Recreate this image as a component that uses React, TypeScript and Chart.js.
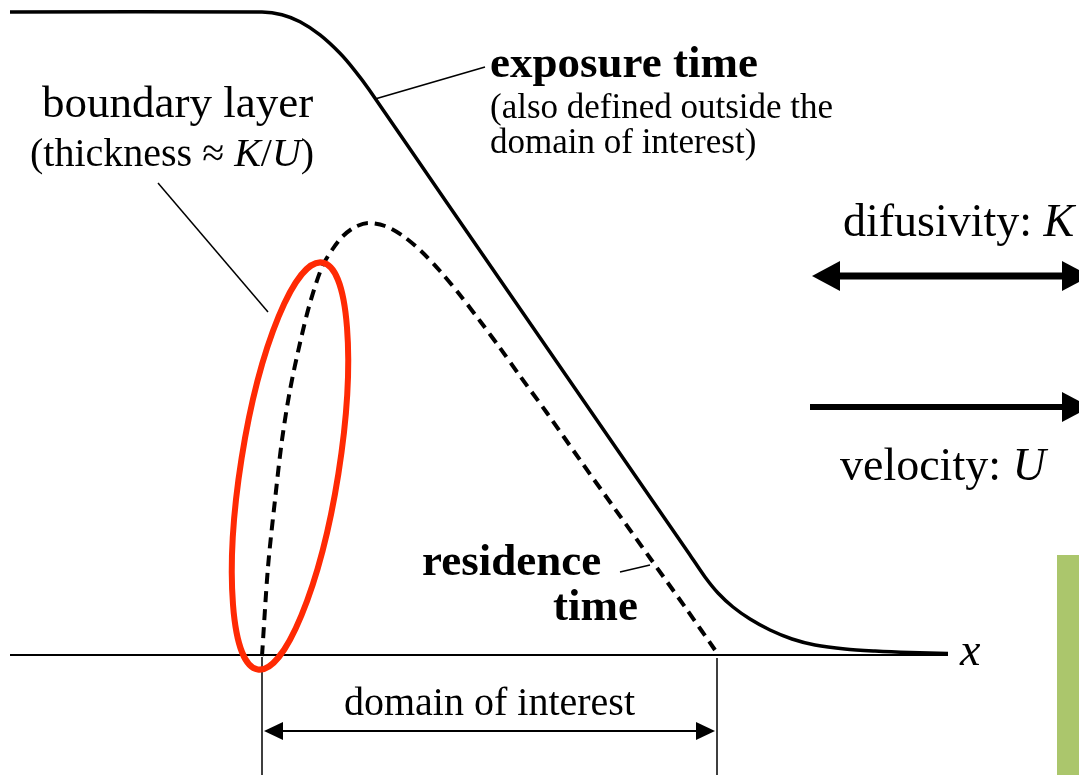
import React, { useEffect, useRef } from "react";
import { Chart, registerables } from "chart.js";

Chart.register(...registerables);

// ---- data (diagram units = reference pixels) ----
const exposureX = [10, 262, 282, 300, 320, 340, 355, 369, 445, 514, 583, 652, 690, 705, 718, 733, 750, 770, 792, 815, 845, 875, 910, 948];
const exposureY = [12, 12, 14.7, 21.8, 34.9, 53.3, 70.8, 89.4, 200, 300, 400, 500, 555, 577, 593, 607, 619, 630, 639, 645, 649, 651, 652.5, 653.5];

const residenceX = [262, 268, 275, 282, 290, 300, 310, 322, 332, 343, 355, 368, 385, 403, 422, 440, 460, 480, 500, 520, 547, 580, 615, 650, 685, 715];
const residenceY = [656, 567, 500, 440, 390, 343, 303, 267, 250, 236, 227, 223, 226, 236, 252, 271, 295, 321, 348, 376, 413, 460, 509, 558, 607, 650];

const axisX = [10, 948];
const axisY = [655, 655];

const domainStart = 262;
const domainEnd = 717;

const boundaryLeaderX = [158, 268];
const boundaryLeaderY = [183, 312];
const exposureLeaderX = [375, 485];
const exposureLeaderY = [99, 67];
const residenceLeaderX = [620, 650];
const residenceLeaderY = [572, 565];

const toPts = (xs: number[], ys: number[]) => xs.map((x, i) => ({ x, y: ys[i] }));

const SERIF = '"Liberation Serif", "Times New Roman", serif';

function drawArrow(
  ctx: CanvasRenderingContext2D,
  x1: number, y1: number, x2: number, y2: number,
  lw: number, hl: number, hw: number, both: boolean
) {
  const ang = Math.atan2(y2 - y1, x2 - x1);
  const cos = Math.cos(ang), sin = Math.sin(ang);
  const sx = both ? x1 + cos * hl * 0.8 : x1;
  const sy = both ? y1 + sin * hl * 0.8 : y1;
  const ex = x2 - cos * hl * 0.8;
  const ey = y2 - sin * hl * 0.8;
  ctx.save();
  ctx.strokeStyle = "#000";
  ctx.fillStyle = "#000";
  ctx.lineWidth = lw;
  ctx.lineCap = "butt";
  ctx.beginPath();
  ctx.moveTo(sx, sy);
  ctx.lineTo(ex, ey);
  ctx.stroke();
  const head = (tx: number, ty: number, dir: number) => {
    const bx = tx - dir * cos * hl, by = ty - dir * sin * hl;
    ctx.beginPath();
    ctx.moveTo(tx, ty);
    ctx.lineTo(bx - sin * hw, by + cos * hw);
    ctx.lineTo(bx + sin * hw, by - cos * hw);
    ctx.closePath();
    ctx.fill();
  };
  head(x2, y2, 1);
  if (both) head(x1, y1, -1);
  ctx.restore();
}

type Seg = { t: string; it?: boolean; bold?: boolean };

function drawRich(ctx: CanvasRenderingContext2D, segs: Seg[], x: number, y: number, size: number, align: "left" | "center" = "left") {
  ctx.save();
  ctx.fillStyle = "#000";
  ctx.textBaseline = "alphabetic";
  ctx.textAlign = "left";
  const fontOf = (s: Seg) => `${s.it ? "italic " : ""}${s.bold ? "bold " : ""}${size}px ${SERIF}`;
  let total = 0;
  segs.forEach((s) => {
    ctx.font = fontOf(s);
    total += ctx.measureText(s.t).width;
  });
  let cx = align === "center" ? x - total / 2 : x;
  segs.forEach((s) => {
    ctx.font = fontOf(s);
    ctx.fillText(s.t, cx, y);
    cx += ctx.measureText(s.t).width;
  });
  ctx.restore();
}

const decorPlugin = {
  id: "decor",
  beforeDatasetsDraw(chart: any) {
    const { ctx, scales } = chart;
    const X = (v: number) => scales.x.getPixelForValue(v);
    const Y = (v: number) => scales.y.getPixelForValue(v);
    ctx.save();
    // green side bar
    ctx.fillStyle = "#abc66c";
    ctx.fillRect(X(1057), Y(555), X(1079) - X(1057), Y(775) - Y(555));
    // domain boundaries
    ctx.strokeStyle = "#000";
    ctx.lineWidth = 1.5;
    ctx.beginPath();
    ctx.moveTo(X(domainStart), Y(657));
    ctx.lineTo(X(domainStart), Y(775));
    ctx.moveTo(X(domainEnd), Y(658));
    ctx.lineTo(X(domainEnd), Y(775));
    ctx.stroke();
    ctx.restore();
  },
  afterDatasetsDraw(chart: any) {
    const { ctx, scales } = chart;
    const X = (v: number) => scales.x.getPixelForValue(v);
    const Y = (v: number) => scales.y.getPixelForValue(v);

    // red ellipse (boundary layer)
    ctx.save();
    ctx.strokeStyle = "#ff2a04";
    ctx.lineWidth = 6;
    ctx.beginPath();
    ctx.ellipse(X(290), Y(466), 49, 206, (9 * Math.PI) / 180, 0, Math.PI * 2);
    ctx.stroke();
    ctx.restore();

    // arrows
    drawArrow(ctx, X(812), Y(276), X(1090), Y(276), 7, 28, 15, true);
    drawArrow(ctx, X(810), Y(407), X(1090), Y(407), 6, 28, 15, false);
    drawArrow(ctx, X(264), Y(731), X(715), Y(731), 2, 19, 9, true);

    // texts
    drawRich(ctx, [{ t: "boundary layer" }], X(42), Y(117), 45);
    drawRich(ctx, [{ t: "(thickness \u2248 " }, { t: "K", it: true }, { t: "/" }, { t: "U", it: true }, { t: ")" }], X(30), Y(166), 40);
    drawRich(ctx, [{ t: "exposure time", bold: true }], X(490), Y(77), 45);
    drawRich(ctx, [{ t: "(also defined outside the" }], X(490), Y(118), 35);
    drawRich(ctx, [{ t: "domain of interest)" }], X(490), Y(153), 35);
    drawRich(ctx, [{ t: "difusivity: " }, { t: "K", it: true }], X(843), Y(236), 46);
    drawRich(ctx, [{ t: "velocity: " }, { t: "U", it: true }], X(840), Y(480), 46);
    drawRich(ctx, [{ t: "residence", bold: true }], X(422), Y(575), 45);
    drawRich(ctx, [{ t: "time", bold: true }], X(553), Y(620), 45);
    drawRich(ctx, [{ t: "domain of interest" }], X((domainStart + domainEnd) / 2), Y(715), 40, "center");
    drawRich(ctx, [{ t: "x", it: true }], X(960), Y(665), 46);
  },
};

export default function App() {
  const ref = useRef<HTMLCanvasElement | null>(null);
  useEffect(() => {
    if (!ref.current) return;
    const lineDs = (xs: number[], ys: number[], width: number, extra: any = {}) => ({
      data: toPts(xs, ys),
      borderColor: "#000",
      borderWidth: width,
      pointRadius: 0,
      fill: false,
      tension: 0,
      ...extra,
    });
    const chart = new Chart(ref.current, {
      type: "line",
      data: {
        datasets: [
          lineDs(axisX, axisY, 2),
          lineDs(exposureX, exposureY, 3.5, { tension: 0.3 }),
          lineDs(residenceX, residenceY, 4, { tension: 0.3, borderDash: [11, 7] }),
          lineDs(boundaryLeaderX, boundaryLeaderY, 1.5),
          lineDs(exposureLeaderX, exposureLeaderY, 1.5),
          lineDs(residenceLeaderX, residenceLeaderY, 1.5),
        ] as any,
      },
      options: {
        animation: false,
        responsive: false,
        maintainAspectRatio: false,
        layout: { padding: 0 },
        plugins: { legend: { display: false }, tooltip: { enabled: false } },
        scales: {
          x: { type: "linear", min: 0, max: 1079, display: false },
          y: { type: "linear", min: 0, max: 775, reverse: true, display: false },
        },
      },
      plugins: [decorPlugin],
    });
    return () => chart.destroy();
  }, []);
  return (
    <div style={{ position: "absolute", left: 0, top: 0, width: 1079, height: 775, background: "#fff" }}>
      <canvas ref={ref} width={1079} height={775} style={{ display: "block" }} />
    </div>
  );
}
